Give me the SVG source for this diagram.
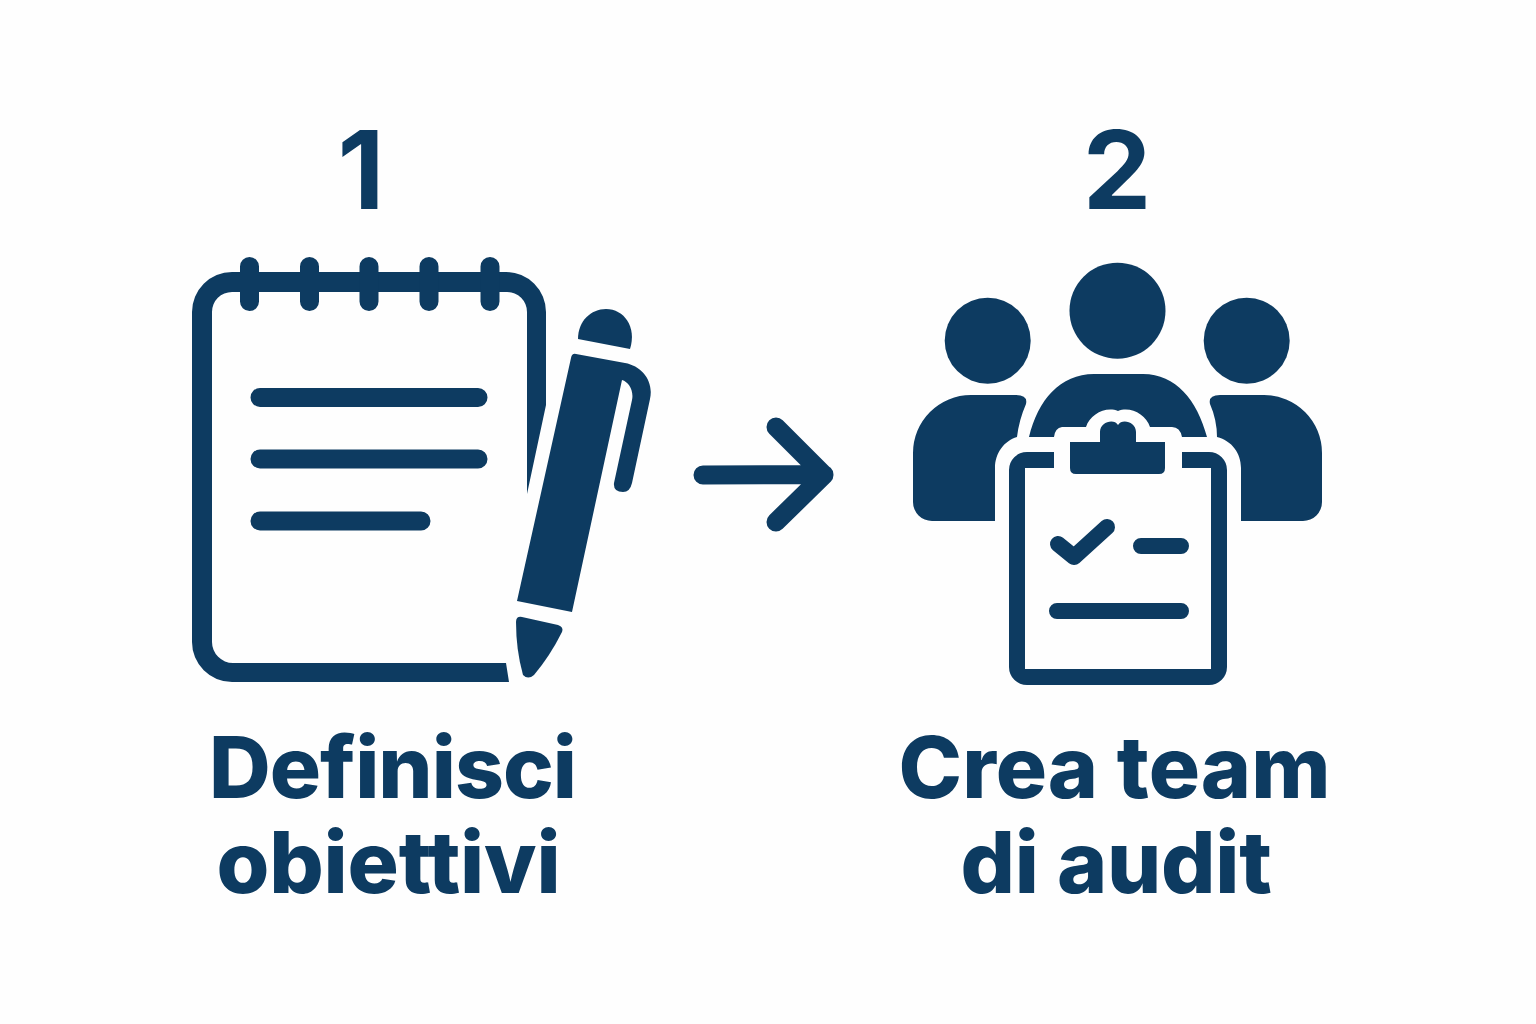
<svg xmlns="http://www.w3.org/2000/svg" width="1536" height="1024" viewBox="0 0 1536 1024">
<style>
.f{fill:#0d3b61}
.s{fill:none;stroke:#0d3b61;stroke-linecap:round;stroke-linejoin:round}
text{font-family:Inter,"Liberation Sans",sans-serif;font-weight:800;fill:#0d3b61;text-anchor:middle}
.n{font-size:109px;font-weight:700}
.t{font-size:85.500px;letter-spacing:-1px}
</style>
<rect width="1536" height="1024" fill="#fefefe"/>
<g id="step1">
<text class="n" x="361" y="209">1</text>
<g id="notebook">
<path class="f" d="M509 682H232A40 40 0 0 1 192 642V312A40 40 0 0 1 232 272H506A40 40 0 0 1 546 312V405L527 494V312A20 20 0 0 0 507 292H232A20 20 0 0 0 212 312V642A21 21 0 0 0 233 663H506Z"/>
<g class="s" style="stroke-width:19">
<path d="M249.500 266.500V301.500M309.500 266.500V301.500M369 266.500V301.500M429 266.500V301.500M490 266.500V301.500"/>
<path d="M260 397.500H478M260 459H478M260 521H421"/>
</g>
</g>
<g id="pen">
<path class="f" d="M578 339C578 321 591 309 606 309C624 309 637 327 630 349Z"/>
<path class="f" d="M571 358Q572 353 576 354L625 363C642 366 654 381 650 399L632 483Q630 492 623 492Q613 492 614 483L632 400C634 391 629 382 622 380L572 612L517 601Z"/>
<path class="f" d="M516 622Q516 616 522 617L558 625Q564 627 562 632Q550 656 534 675Q528 680 523 675Q516 650 516 622Z"/>
</g>
<text class="t" x="392.500" y="797.500">Definisci</text>
<text class="t" x="388.500" y="893" style="letter-spacing:-0.250px">obiettivi</text>
</g>
<g id="connectors">
<path id="arrow" class="s" style="stroke-width:19" d="M703 475L824 474.500M776 427L824 475L776 522"/>
</g>
<g id="step2">
<text class="n" x="1117" y="209">2</text>
<g id="team">
<circle class="f" cx="1117.500" cy="310.700" r="48"/>
<circle class="f" cx="987.700" cy="340.700" r="43"/>
<circle class="f" cx="1246.700" cy="340.700" r="43"/>
<path class="f" d="M995 521H932A19 19 0 0 1 913 502V453A58 58 0 0 1 971 395H1016Q1028 395 1026 404Q1019 420 1017 437C1004 441 995 453 995 468Z"/>
<path class="f" d="M1241 521H1303A19 19 0 0 0 1322 502V453A58 58 0 0 0 1264 395H1220Q1208 395 1210 404Q1217 420 1217 437C1232 441 1241 453 1241 468Z"/>
<path class="f" d="M1029 437C1038 400 1060 374 1094 374H1143C1176 374 1197 400 1207 437H1182Q1180 427 1172 427H1150C1146 414 1130 406 1118 411C1106 406 1090 414 1086 427H1062Q1055 428 1054 437Z"/>
</g>
<g id="clipboard">
<path class="f" fill-rule="evenodd" d="M1054 452H1027A18 18 0 0 0 1009 470V667A18 18 0 0 0 1027 685H1209A18 18 0 0 0 1227 667V470A18 18 0 0 0 1209 452H1182V468H1211V669H1025V468H1054Z"/>
<path class="f" d="M1070 442H1100V432C1100 422 1114 418 1118 425C1122 418 1136 422 1136 432V442H1165V468Q1165 474 1159 474H1076Q1070 474 1070 468Z"/>
<path class="s" style="stroke-width:16" d="M1058 544L1074 557L1107 527M1141 546H1181M1057 611H1181"/>
</g>
<text class="t" x="1114.500" y="797.500" style="letter-spacing:0">Crea team</text>
<text class="t" x="1116" y="893" style="letter-spacing:-0.300px">di audit</text>
</g>
</svg>
